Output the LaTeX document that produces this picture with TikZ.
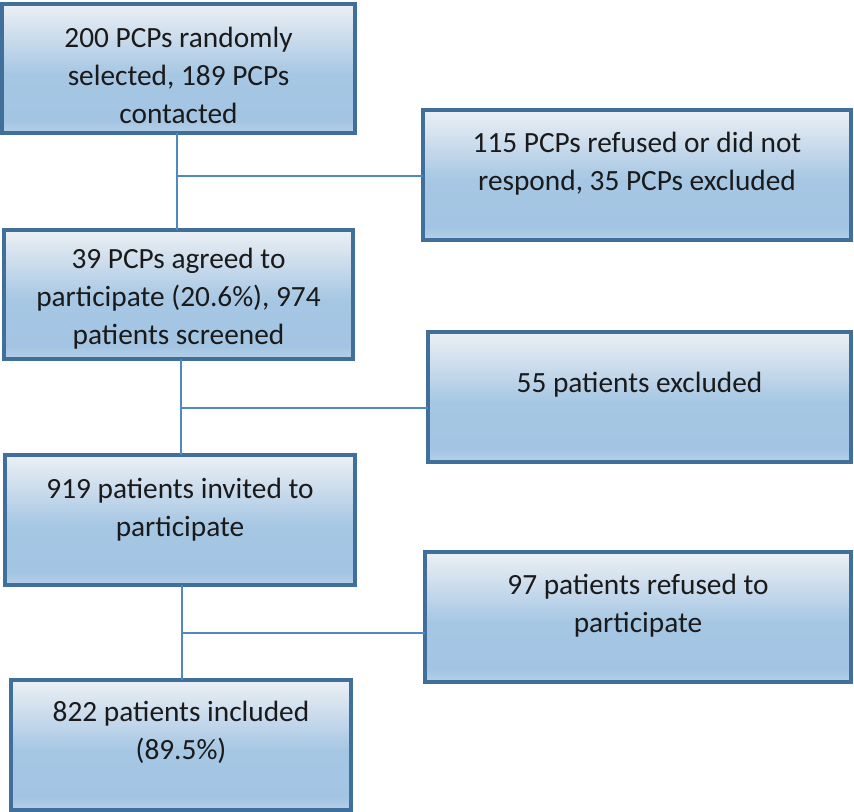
\documentclass[tikz,border=0pt]{standalone}
\usepackage{fontspec}
\setmainfont{Carlito}
\definecolor{boxborder}{HTML}{3F6F9A}
\definecolor{conn}{HTML}{4F89C2}
\definecolor{shtop}{HTML}{ECF0F5}
\definecolor{shupper}{HTML}{CBDCEC}
\definecolor{shmid}{HTML}{A6C7E4}
\definecolor{shlow}{HTML}{A3C4E2}
\definecolor{shbot}{HTML}{B6D1E9}
\definecolor{txt}{HTML}{1A1A1A}
\pgfdeclareverticalshading{boxshade}{100bp}{color(0bp)=(shbot); color(25bp)=(shbot); color(30bp)=(shlow); color(48bp)=(shmid); color(62bp)=(shupper); color(75bp)=(shtop); color(100bp)=(shtop)}
\begin{document}
\begin{tikzpicture}[x=0.75pt,y=-0.75pt,
  flowbox/.style={draw=boxborder, line width=2.3pt, shading=boxshade, rectangle, inner sep=0pt, outer sep=0pt},
  flowtext/.style={align=center, text=txt, font=\fontsize{22pt}{28.5pt}\selectfont, inner sep=0pt},
  connline/.style={draw=conn, line width=1.1pt}]
\useasboundingbox (0,0) rectangle (854,812);
% boxes
\node[flowbox, minimum width=353*0.75pt, minimum height=129*0.75pt] (b1) at (178.5,68.5) {};
\node[flowbox, minimum width=428*0.75pt, minimum height=130*0.75pt] (b2) at (637,175) {};
\node[flowbox, minimum width=349*0.75pt, minimum height=129*0.75pt] (b3) at (178.5,294.5) {};
\node[flowbox, minimum width=423*0.75pt, minimum height=130*0.75pt] (b4) at (639.5,397) {};
\node[flowbox, minimum width=350*0.75pt, minimum height=130*0.75pt] (b5) at (180,520) {};
\node[flowbox, minimum width=426*0.75pt, minimum height=130*0.75pt] (b6) at (638,617) {};
\node[flowbox, minimum width=340*0.75pt, minimum height=130*0.75pt] (b7) at (181,745) {};
% texts
\node[flowtext] (t1) at (178.5,75) {200 PCPs randomly\\selected, 189 PCPs\\contacted};
\node[flowtext] (t2) at (637,164) {115 PCPs refused or did not\\respond, 35 PCPs excluded};
\node[flowtext] (t3) at (178.5,299) {39 PCPs agreed to\\participate (20.6\%), 974\\patients screened};
\node[flowtext] (t4) at (639.5,385) {55 patients excluded};
\node[flowtext] (t5) at (180,510) {919 patients invited to\\participate};
\node[flowtext] (t6) at (638,606) {97 patients refused to\\participate};
\node[flowtext] (t7) at (181,732) {822 patients included\\(89.5\%)};
% connectors
\coordinate (j1) at (177,176);
\coordinate (j2) at (181,408);
\coordinate (j3) at (182,633);
\draw[connline] (b1.south -| j1) -- (b3.north -| j1);
\draw[connline] (j1) -- (b2.west |- j1);
\draw[connline] (b3.south -| j2) -- (b5.north -| j2);
\draw[connline] (j2) -- (b4.west |- j2);
\draw[connline] (b5.south -| j3) -- (b7.north -| j3);
\draw[connline] (j3) -- (b6.west |- j3);
\end{tikzpicture}
\end{document}
